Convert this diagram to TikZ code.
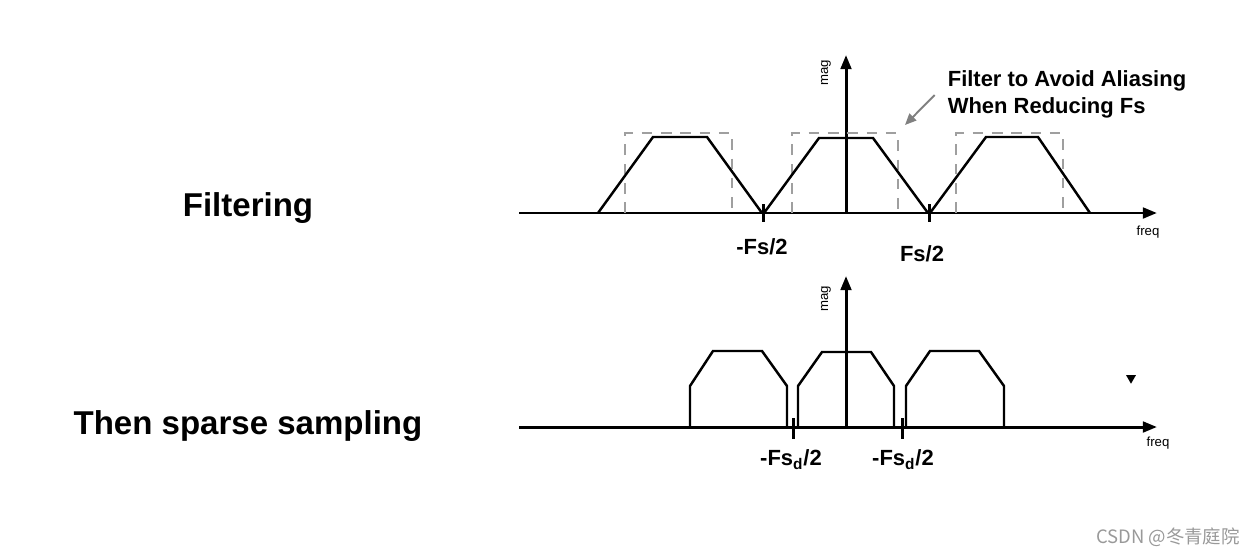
\documentclass[tikz,border=0pt]{standalone}
\usepackage{fontspec}
\setmainfont{Liberation Sans}
\newfontfamily\cjkfont{Noto Sans CJK SC}
\usetikzlibrary{arrows.meta,calc,shapes.geometric}

\begin{document}
\begin{tikzpicture}[x=0.02cm,y=-0.02cm,>={Triangle[length=8pt,width=6pt]},
  axisline/.style={line width=1.7pt},
  specline/.style={line width=1.4pt,line join=miter},
  filterbox/.style={gray!75,line width=1.2pt,dash pattern=on 6pt off 5pt},
  titletext/.style={font=\bfseries\fontsize{18.8}{22}\selectfont},
  ticktext/.style={font=\bfseries\fontsize{12.5}{15.3}\selectfont},
  axistext/.style={font=\fontsize{7.5}{9}\selectfont}]
  \useasboundingbox (0,0) rectangle (1251,555);
%%
  % Node: titles
  \node[titletext] (filtering) at (248,208) {Filtering};
  \node[titletext] (sparse) at (248,426) {Then sparse sampling};
%%
  % Edge: top axes
  \draw [axisline,->] (519,213) -- (1157,213);
  \draw [axisline,->] (846,213) -- (846,55);
  \node[axistext,rotate=90] (magtop) at (826,73) {mag};
  \node[axistext] (freqtop) at (1148,232) {freq};
  % ticks at +-Fs/2
  \draw [axisline] (763,204) -- (763,222);
  \draw [axisline] (929,204) -- (929,222);
  \node[ticktext] (fsneg) at (762,247) {-Fs/2};
  \node[ticktext] (fspos) at (922,254) {Fs/2};
  % filter boxes
  \draw [filterbox] (625,213) -- (625,133) -- (732,133) -- (732,213);
  \draw [filterbox] (792,213) -- (792,133) -- (898,133) -- (898,213);
  \draw [filterbox] (956,213) -- (956,133) -- (1063,133) -- (1063,213);
  % spectra
  \draw [specline] (598,213) -- (653,137) -- (707,137) -- (762,213);
  \draw [specline] (764,213) -- (819,138) -- (873,138) -- (928,213);
  \draw [specline] (930,213) -- (986,137) -- (1038,137) -- (1090,213);
  % Node: note
  \node[ticktext,align=left] (note) at (1067,94) {Filter to Avoid Aliasing\\When Reducing Fs};
  \coordinate (boxcorner) at (905,125);
  \draw [gray,line width=1.1pt,->,>={Triangle[length=6.5pt,width=5.5pt]}] ($(note.west)+(-7,1)$) -- (boxcorner);
%%
  % Edge: bottom axes
  \draw [axisline,->] (519,427) -- (1157,427);
  \draw [axisline,->] (846,427) -- (846,276);
  \node[axistext,rotate=90] (magbot) at (826,299) {mag};
  \node[axistext] (freqbot) at (1158,443) {freq};
  % ticks at Fsd/2
  \draw [axisline] (793,418) -- (793,439);
  \draw [axisline] (902,418) -- (902,439);
  \node[ticktext] (fsdneg) at (791,460) {-Fs\textsubscript{d}/2};
  \node[ticktext] (fsdpos) at (903,460) {-Fs\textsubscript{d}/2};
  % filtered spectra
  \draw [specline] (690,427) -- (690,386) -- (713,351) -- (762,351) -- (787,386) -- (787,427);
  \draw [specline] (798,427) -- (798,386) -- (822,352) -- (871,352) -- (894,386) -- (894,427);
  \draw [specline] (906,427) -- (906,386) -- (930,351) -- (979,351) -- (1004,386) -- (1004,427);
  % Node: marker
  \node[fill,regular polygon,regular polygon sides=3,shape border rotate=180,inner sep=0pt,minimum size=6.5pt] (marker) at (1131,378) {};
%%
  % Node: watermark
  \node[font=\cjkfont\fontsize{10.5}{12}\selectfont,text=gray!80] (csdn) at (1168,537) {CSDN @冬青庭院};
%
\end{tikzpicture}
\end{document}
